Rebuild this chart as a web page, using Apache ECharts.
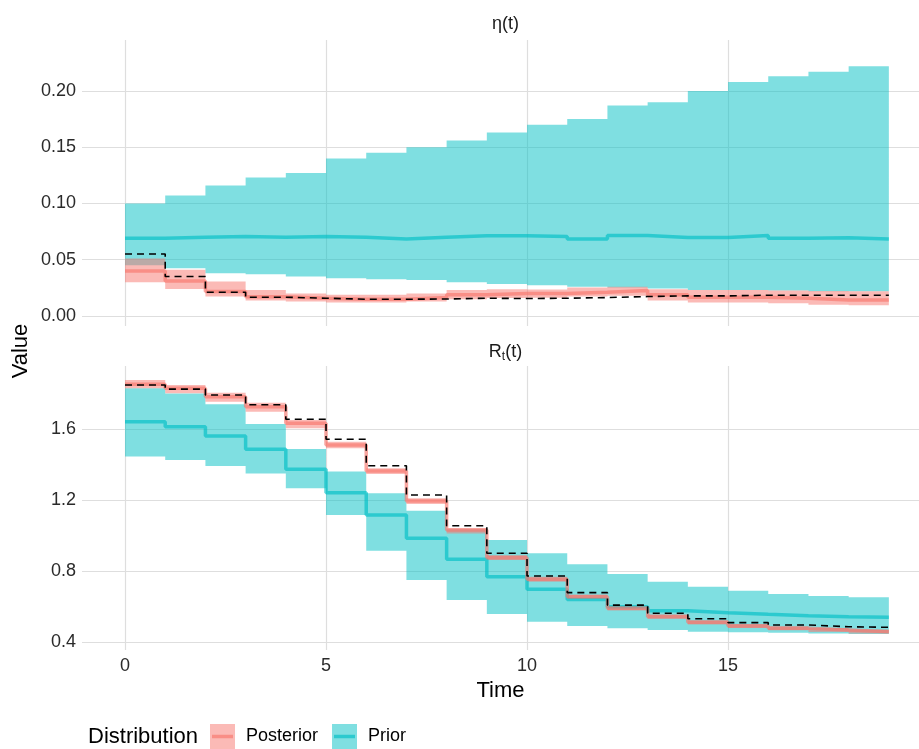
<!DOCTYPE html>
<html>
<head>
<meta charset="utf-8">
<script src="https://cdn.jsdelivr.net/npm/echarts@6/dist/echarts.min.js"></script>
<style>
html,body{margin:0;padding:0;background:#fff;}
#chart{width:919px;height:749px;}
</style>
</head>
<body>
<div id="chart"></div>
<script>
// ---- data ----
const time = [0,1,2,3,4,5,6,7,8,9,10,11,12,13,14,15,16,17,18,19];
const xTicks = [0,5,10,15];
const etaTicks = [0,0.05,0.10,0.15,0.20];
const rtTicks = [0.4,0.8,1.2,1.6];
const panelTitles = ['η(t)', 'Rt(t)'];
const legendNames = ['Posterior','Prior'];

// eta(t) panel (one value per step interval [t, t+1])
const etaPriorLo  = [0.045,0.0424,0.038,0.037,0.035,0.0335,0.0326,0.032,0.030,0.0284,0.0273,0.026,0.0252,0.0243,0.0231,0.0231,0.0225,0.022,0.022];
const etaPriorMed = [0.069,0.070,0.0705,0.070,0.0705,0.070,0.0684,0.070,0.0713,0.0713,0.0705,0.0684,0.0714,0.0698,0.0698,0.0714,0.069,0.0695,0.0684];
const etaPriorHi  = [0.100,0.107,0.116,0.123,0.127,0.140,0.145,0.150,0.156,0.163,0.170,0.175,0.187,0.190,0.200,0.208,0.213,0.217,0.222];
const etaPostLo   = [0.030,0.024,0.0172,0.0136,0.0127,0.0118,0.0118,0.0127,0.0148,0.016,0.0162,0.0172,0.0178,0.0136,0.0118,0.012,0.0112,0.0098,0.0094];
const etaPostMed  = [0.040,0.031,0.0216,0.017,0.0157,0.0148,0.0148,0.0163,0.0187,0.020,0.020,0.021,0.0225,0.0187,0.0166,0.0166,0.0157,0.0142,0.0142];
const etaPostHi   = [0.051,0.041,0.0305,0.023,0.020,0.0187,0.0187,0.020,0.023,0.0237,0.0235,0.0252,0.026,0.0237,0.023,0.023,0.0225,0.0222,0.022];
const etaTrue     = [0.055,0.035,0.021,0.0166,0.0157,0.0148,0.0148,0.015,0.0157,0.0154,0.0157,0.0163,0.0172,0.0178,0.0178,0.0184,0.0184,0.0184,0.0184];

// R_t(t) panel
const rtPriorLo  = [1.445,1.425,1.392,1.350,1.266,1.115,0.914,0.749,0.637,0.558,0.514,0.490,0.477,0.467,0.458,0.455,0.452,0.448,0.445];
const rtPriorMed = [1.641,1.613,1.560,1.486,1.373,1.241,1.115,0.984,0.866,0.768,0.697,0.640,0.599,0.576,0.565,0.556,0.548,0.543,0.539];
const rtPriorHi  = [1.829,1.800,1.739,1.628,1.487,1.360,1.238,1.140,1.035,0.975,0.900,0.838,0.783,0.740,0.712,0.689,0.670,0.659,0.652];
const rtPostLo   = [1.829,1.801,1.754,1.697,1.604,1.491,1.346,1.177,1.012,0.862,0.740,0.642,0.578,0.531,0.499,0.479,0.466,0.457,0.448];
const rtPostMed  = [1.852,1.829,1.782,1.726,1.632,1.510,1.363,1.194,1.031,0.875,0.753,0.655,0.590,0.543,0.511,0.490,0.477,0.468,0.458];
const rtPostHi   = [1.876,1.848,1.805,1.748,1.651,1.528,1.379,1.210,1.041,0.890,0.767,0.668,0.603,0.556,0.523,0.502,0.489,0.479,0.470];
const rtTrue     = [1.848,1.825,1.792,1.737,1.655,1.542,1.393,1.228,1.055,0.900,0.772,0.678,0.608,0.562,0.531,0.509,0.496,0.486,0.483];

// ---- styling ----
const FONT = "'Liberation Sans', Arial, Helvetica, sans-serif";
const POST = '#F8766D', PRIOR = '#00BFC4';
const POST_FILL = 'rgba(248,118,109,0.5)', PRIOR_FILL = 'rgba(0,191,196,0.5)';
const GRIDC = '#dedede';
const TICKC = '#2a2a2a';

// step data: value v[i] on [time[i], time[i+1]], last point closes the final step
function stepPts(vals){
  return time.map((t,i) => [t, vals[Math.min(i, vals.length-1)]]);
}

// step ribbon drawn as one polygon through the axis scales (api.coord)
function ribbon(gi, name, lo, hi, fill, z){
  const rows = time.map((t,i) => { const k = Math.min(i, lo.length-1); return [t, lo[k], hi[k]]; });
  return {
    type:'custom', name:name, xAxisIndex:gi, yAxisIndex:gi, silent:true, z:z,
    itemStyle:{color:fill},
    encode:{x:0, y:[1,2]},
    data: rows,
    renderItem: function(params, api){
      if (params.dataIndex !== 0) return null;
      const top = [], bot = [];
      for (let i = 0; i < rows.length - 1; i++){
        top.push(api.coord([rows[i][0], rows[i][2]]));
        top.push(api.coord([rows[i+1][0], rows[i][2]]));
        bot.push(api.coord([rows[i][0], rows[i][1]]));
        bot.push(api.coord([rows[i+1][0], rows[i][1]]));
      }
      const pts = top.concat(bot.reverse());
      return {type:'polygon', shape:{points:pts}, style:{fill:fill}};
    }
  };
}
function medLine(gi, name, vals, color, z){
  return {type:'line', name: name+'_med'+gi, xAxisIndex:gi, yAxisIndex:gi, step:'end', data: stepPts(vals),
    symbol:'none', lineStyle:{color: color, width:3.5, opacity:0.65}, silent:true, z:z};
}
function trueLine(gi, vals){
  return {type:'line', name:'true'+gi, xAxisIndex:gi, yAxisIndex:gi, step:'end', data: stepPts(vals),
    symbol:'none', lineStyle:{color:'#000', width:1.6, type:[7,5]}, silent:true, z:6};
}

const series = [
  ribbon(0,'Prior',etaPriorLo,etaPriorHi,PRIOR_FILL,1),
  ribbon(0,'Posterior',etaPostLo,etaPostHi,POST_FILL,2),
  medLine(0,'Prior',etaPriorMed,PRIOR,3), medLine(0,'Posterior',etaPostMed,POST,4), trueLine(0,etaTrue),
  ribbon(1,'Prior',rtPriorLo,rtPriorHi,PRIOR_FILL,1),
  ribbon(1,'Posterior',rtPostLo,rtPostHi,POST_FILL,2),
  medLine(1,'Prior',rtPriorMed,PRIOR,3), medLine(1,'Posterior',rtPostMed,POST,4), trueLine(1,rtTrue)
];

function xAxis(gi, showLabels){
  return {type:'value', gridIndex:gi, min:-1.07, max:19.75,
    axisLine:{show:false},
    axisTick:{show:false, customValues: xTicks},
    axisLabel:{show:showLabels, customValues: xTicks, margin:7, fontFamily:FONT, fontSize:18, color:TICKC},
    splitLine:{show:true, lineStyle:{color:GRIDC, width:1.2}},
    name: showLabels ? 'Time' : '', nameLocation:'middle', nameGap:30,
    nameTextStyle:{fontFamily:FONT, fontSize:22, color:'#000'}
  };
}
function yAxis(gi, min, max, ticks, dec){
  return {type:'value', gridIndex:gi, min:min, max:max,
    axisLine:{show:false},
    axisTick:{show:false, customValues: ticks},
    axisLabel:{customValues: ticks, margin:6, fontFamily:FONT, fontSize:18, color:TICKC,
      formatter: v => Number(v).toFixed(dec)},
    splitLine:{show:true, lineStyle:{color:GRIDC, width:1.2}}
  };
}

function keyIcon(fill, line){
  const svg = '<svg xmlns="http://www.w3.org/2000/svg" width="25" height="25">' +
    '<rect width="25" height="25" fill="'+fill+'"/>' +
    '<line x1="2" y1="12.5" x2="23" y2="12.5" stroke="'+line+'" stroke-opacity="0.65" stroke-width="3.5"/></svg>';
  return 'image://data:image/svg+xml;charset=utf-8,' + encodeURIComponent(svg);
}

const chart = echarts.init(document.getElementById('chart'), null, {renderer:'canvas'});
chart.setOption({
  animation:false,
  backgroundColor:'#fff',
  grid:[
    {left:82, top:40, width:837, height:286},
    {left:82, top:366, width:837, height:284}
  ],
  xAxis:[xAxis(0,false), xAxis(1,true)],
  yAxis:[yAxis(0,-0.009,0.2453,etaTicks,2), yAxis(1,0.355,1.955,rtTicks,1)],
  legend:{
    left:205, top:719, itemWidth:25, itemHeight:25, itemGap:14, orient:'horizontal',
    selectedMode:false,
    textStyle:{fontFamily:FONT, fontSize:18, color:'#000', padding:[0,0,0,6]},
    data:[
      {name:legendNames[0], icon: keyIcon('rgba(248,118,109,0.5)', POST)},
      {name:legendNames[1], icon: keyIcon('rgba(0,191,196,0.5)', PRIOR)}
    ]
  },
  graphic:[
    {type:'text', left:88, top:726, style:{text:'Distribution', font:'22px '+FONT, fill:'#000'}},
    {type:'text', x:505.5, y:24, style:{text:panelTitles[0], font:'18px '+FONT, fill:'#1a1a1a', align:'center', verticalAlign:'middle'}},
    {type:'text', x:505.5, y:352, style:{
      text:'{a|R}{s|t}{a|(t)}', align:'center', verticalAlign:'middle', fill:'#1a1a1a',
      rich:{a:{fontFamily:FONT, fontSize:18, lineHeight:22, fill:'#1a1a1a'},
            s:{fontFamily:FONT, fontSize:12, lineHeight:22, verticalAlign:'bottom', fill:'#1a1a1a'}}}},
    {type:'text', x:21, y:351, rotation:Math.PI/2, style:{text:'Value', font:'22px '+FONT, fill:'#000', align:'center', verticalAlign:'middle'}}
  ],
  series: series
});
</script>
</body>
</html>
